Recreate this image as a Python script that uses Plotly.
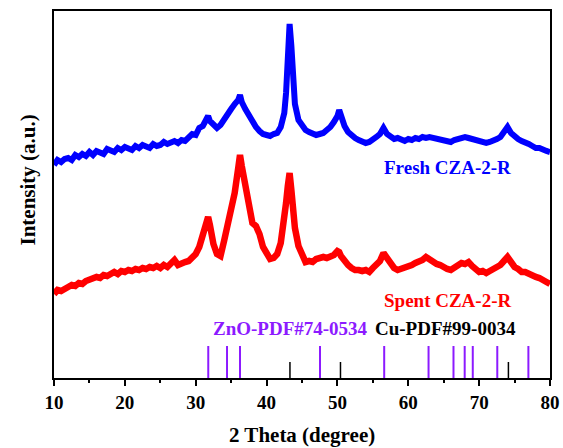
import plotly.graph_objects as go

# ---- data (intensity in arbitrary units) ----
two_theta = [10.0, 10.5, 11.0, 11.5, 12.0, 12.5, 13.0, 13.5, 14.0, 14.5, 15.0, 15.5, 16.0, 16.5, 17.0, 17.5,
             18.0, 18.5, 19.0, 19.5, 20.0, 20.5, 21.0, 21.5, 22.0, 22.5, 23.0, 23.5, 24.0, 24.5, 25.0, 25.5,
             26.0, 26.5, 27.0, 27.5, 28.0, 28.5, 29.0, 29.5, 30.0, 30.5, 31.0, 31.5, 31.75, 32.0, 32.5, 33.0,
             33.5, 34.0, 34.5, 35.0, 35.5, 36.0, 36.25, 36.5, 37.0, 37.5, 38.0, 38.5, 39.0, 39.5, 40.0, 40.5,
             41.0, 41.5, 42.0, 42.5, 42.75, 43.0, 43.25, 43.5, 43.75, 44.0, 44.5, 45.0, 45.5, 46.0, 46.5, 47.0,
             47.5, 48.0, 48.5, 49.0, 49.5, 50.0, 50.25, 50.5, 51.0, 51.5, 52.0, 52.5, 53.0, 53.5, 54.0, 54.5,
             55.0, 55.5, 56.0, 56.5, 57.0, 57.5, 58.0, 58.5, 59.0, 59.5, 60.0, 60.5, 61.0, 61.5, 62.0, 62.5,
             63.0, 63.5, 64.0, 64.5, 65.0, 65.5, 66.0, 66.5, 67.0, 67.5, 68.0, 68.5, 69.0, 69.5, 70.0, 70.5,
             71.0, 71.5, 72.0, 72.5, 73.0, 73.5, 74.0, 74.5, 75.0, 75.5, 76.0, 76.5, 77.0, 77.5, 78.0, 78.5,
             79.0, 79.5, 80.0]
fresh_y = [213, 218, 216, 219, 220, 218, 223, 221, 224, 222, 226, 223, 227, 226, 224, 229,
           227, 226, 230, 228, 231, 229, 228, 232, 230, 233, 231, 230, 234, 232, 233, 236,
           234, 235, 237, 235, 238, 237, 240, 244, 243, 250, 252, 259, 262, 257, 254, 250,
           253, 259, 265, 269, 274, 278, 283, 276, 269, 262, 257, 251, 247, 244, 243, 242,
           244, 245, 251, 265, 285, 322, 354, 332, 292, 274, 258, 252, 248, 246, 244, 243,
           244, 245, 248, 251, 256, 262, 268, 262, 252, 246, 242, 240, 238, 236, 235, 236,
           238, 241, 244, 250, 244, 241, 239, 240, 238, 237, 239, 238, 240, 239, 241, 240,
           241, 240, 239, 238, 237, 236, 236, 238, 239, 240, 241, 240, 239, 238, 236, 235,
           235, 236, 237, 239, 241, 246, 251, 245, 241, 239, 237, 236, 234, 232, 230, 230,
           228, 227, 226]
spent_y = [84, 88, 87, 90, 91, 93, 92, 95, 94, 97, 98, 99, 101, 100, 103, 102,
           104, 106, 104, 107, 106, 108, 107, 109, 108, 110, 109, 111, 110, 112, 110, 113,
           111, 114, 118, 113, 115, 116, 117, 121, 124, 131, 142, 155, 161, 153, 134, 124,
           122, 137, 153, 167, 185, 210, 223, 212, 190, 168, 155, 152, 144, 131, 123, 119,
           120, 124, 135, 157, 175, 192, 205, 188, 165, 150, 132, 123, 116, 117, 116, 119,
           120, 121, 120, 122, 123, 127, 126, 122, 117, 113, 110, 108, 108, 107, 108, 106,
           110, 113, 117, 125, 120, 114, 110, 108, 109, 110, 112, 113, 115, 116, 118, 121,
           118, 116, 114, 113, 110, 109, 108, 111, 112, 115, 114, 116, 112, 109, 106, 107,
           105, 107, 109, 112, 113, 117, 121, 116, 111, 109, 106, 106, 104, 103, 101, 100,
           97, 96, 94]

zno_pos = [31.77, 34.42, 36.25, 47.54, 56.60, 62.86, 66.38, 67.96, 69.10, 72.56, 76.95]
zno_h = 32
cu_pos = [43.30, 50.43, 74.13]
cu_h = 16

x_ticks = [10, 20, 30, 40, 50, 60, 70, 80]

FONT = "Liberation Serif, Times New Roman, serif"


def sticks(pos, h):
    xs, ys = [], []
    for p in pos:
        xs += [p, p, None]
        ys += [0, h, None]
    return xs, ys


fig = go.Figure()
fig.add_trace(go.Scatter(x=two_theta, y=fresh_y, mode="lines",
                         line=dict(color="#0000ff", width=6), showlegend=False))
fig.add_trace(go.Scatter(x=two_theta, y=spent_y, mode="lines",
                         line=dict(color="#ff0000", width=6.5), showlegend=False))
zx, zy = sticks(zno_pos, zno_h)
fig.add_trace(go.Scatter(x=zx, y=zy, mode="lines",
                         line=dict(color="#8c1aff", width=2), showlegend=False))
cx, cy = sticks(cu_pos, cu_h)
fig.add_trace(go.Scatter(x=cx, y=cy, mode="lines",
                         line=dict(color="black", width=1.5), showlegend=False))

ann = [
    dict(x=65.6, y=211, text="<b>Fresh CZA-2-R</b>", font=dict(color="#0000ff", size=19)),
    dict(x=65.6, y=78, text="<b>Spent CZA-2-R</b>", font=dict(color="#ff0000", size=19)),
    dict(x=43.4, y=50, text="<b>ZnO-PDF#74-0534</b>", font=dict(color="#8c1aff", size=19)),
    dict(x=65.3, y=50, text="<b>Cu-PDF#99-0034</b>", font=dict(color="black", size=19)),
]
annotations = []
for a in ann:
    a.update(xref="x", yref="y", showarrow=False, xanchor="center", yanchor="middle")
    a["font"]["family"] = FONT
    annotations.append(a)

annotations.append(dict(xref="paper", yref="paper", x=0.5, y=-0.155, showarrow=False,
                        text="<b>2 Theta (degree)</b>", xanchor="center", yanchor="middle",
                        font=dict(family=FONT, size=21, color="black")))
annotations.append(dict(xref="paper", yref="paper", x=-0.053, y=0.54, showarrow=False,
                        text="<b>Intensity (a.u.)</b>", textangle=-90, xanchor="center",
                        yanchor="middle", font=dict(family=FONT, size=21, color="black")))

fig.update_layout(
    width=563, height=448,
    margin=dict(l=54, r=13, t=11, b=70, autoexpand=False),
    paper_bgcolor="white", plot_bgcolor="white",
    annotations=annotations,
    xaxis=dict(range=[10, 80], tickvals=x_ticks, ticks="outside", ticklen=6, tickwidth=2,
               tickcolor="black", showline=True, linecolor="black", linewidth=2, mirror=True,
               showgrid=False, zeroline=False, automargin=False,
               tickfont=dict(family=FONT, size=19, color="black", weight="bold"),
               minor=dict(dtick=5, tick0=15, ticks="outside", ticklen=3, tickwidth=2,
                          tickcolor="black", showgrid=False)),
    yaxis=dict(range=[0, 367], showticklabels=False, ticks="", showline=True, automargin=False,
               linecolor="black", linewidth=2, mirror=True, showgrid=False, zeroline=False),
)

fig.write_html("out.html")
